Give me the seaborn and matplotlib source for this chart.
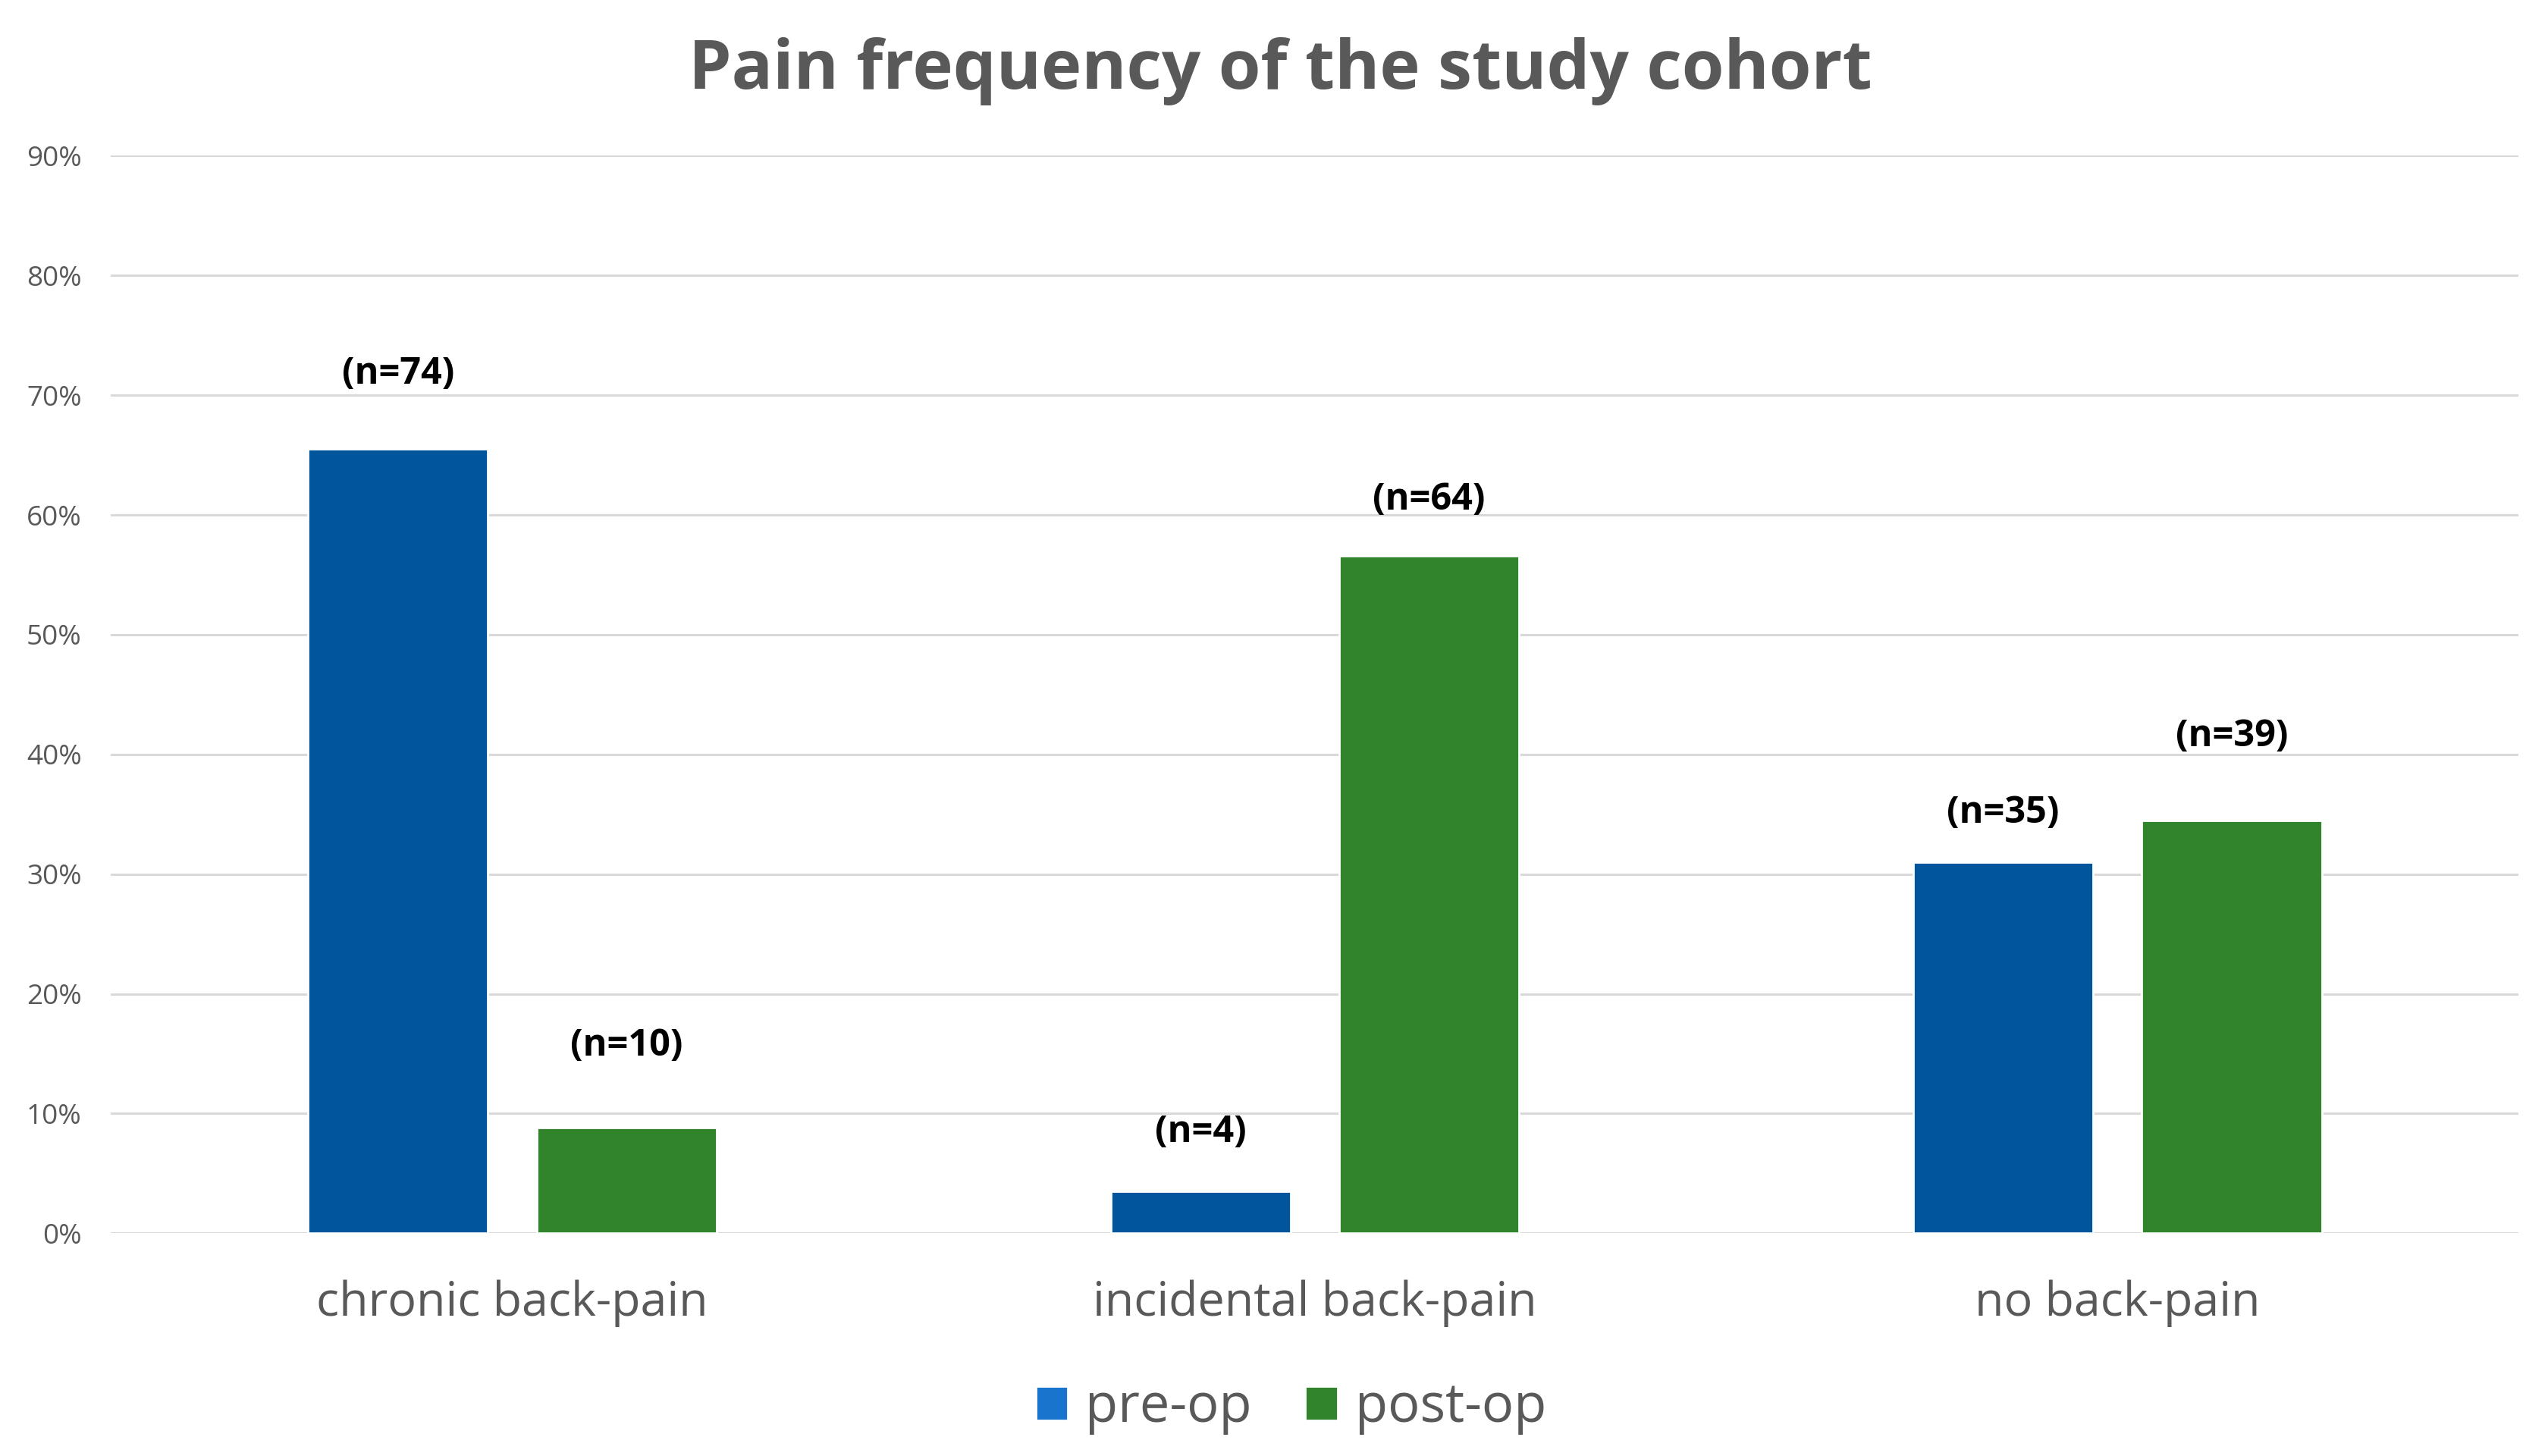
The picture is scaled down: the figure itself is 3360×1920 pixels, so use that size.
import matplotlib
matplotlib.use("Agg")
import matplotlib.pyplot as plt
import seaborn as sns
import pandas as pd
from matplotlib.ticker import FuncFormatter

# ---- data ----
categories = ["chronic back-pain", "incidental back-pain", "no back-pain"]
phases = ["pre-op", "post-op"]
pre_op_pct = [65.5, 3.5, 31.0]
post_op_pct = [8.8, 56.6, 34.5]
pre_op_n = [74, 4, 35]
post_op_n = [10, 64, 39]
y_ticks = [0, 10, 20, 30, 40, 50, 60, 70, 80, 90]

df = pd.DataFrame({
    "category": categories * 2,
    "phase": [phases[0]] * 3 + [phases[1]] * 3,
    "pct": pre_op_pct + post_op_pct,
})
labels_n = pre_op_n + post_op_n

# ---- style ----
sns.set_theme(style="white")
plt.rcParams["font.family"] = ["Open Sans", "DejaVu Sans"]
text_gray = "#595959"
bar_blue = "#00559D"
bar_green = "#31832C"
legend_blue = "#1874CD"
grid_gray = "#D9D9D9"

fig = plt.figure(figsize=(16.8, 9.6), dpi=200)
ax = fig.add_axes([0.0436, 0.153, 0.9449, 0.740])

sns.barplot(data=df, x="category", y="pct", hue="phase", order=categories,
            hue_order=phases, palette=[bar_blue, bar_green], width=0.57,
            gap=0.214, saturation=1, ax=ax, legend=True, zorder=3)

ax.set_xlim(-0.5, 2.5)
ax.set_ylim(0, 90)
ax.set_yticks(y_ticks)
ax.yaxis.set_major_formatter(FuncFormatter(lambda v, p: f"{v:.0f}%"))
ax.grid(axis="y", color=grid_gray, linewidth=1.1, zorder=0)
ax.grid(axis="x", visible=False)
ax.set_axisbelow(True)
for s in ax.spines.values():
    s.set_visible(False)
ax.tick_params(axis="y", length=0, pad=14, labelsize=13.3, labelcolor=text_gray)
ax.tick_params(axis="x", length=0, pad=22, labelsize=22.6, labelcolor=text_gray)
ax.set_xlabel("")
ax.set_ylabel("")

# value labels
label_lift = [46, 36, 30, 50, 34, 51]  # display offsets (px in reference, ~0.465 scale)
bars = [p for c in ax.containers for p in c]
for bar, n, lift in zip(bars, labels_n, label_lift):
    x = bar.get_x() + bar.get_width() / 2
    y = bar.get_height()
    ax.annotate(f"(n={n})", (x, y), xytext=(0, lift * 2.154 / 200 * 72),
                textcoords="offset points", ha="center", va="center",
                fontsize=17.5, fontweight="bold", color="black")

# legend
leg = ax.legend(loc="center", bbox_to_anchor=(0.5067, 0.033),
                bbox_transform=fig.transFigure, ncol=2, frameon=False,
                fontsize=25.4, handlelength=0.6, handleheight=0.6,
                handletextpad=0.33, columnspacing=1.0, labelcolor=text_gray)
leg.legend_handles[0].set_facecolor(legend_blue)

fig.suptitle("Pain frequency of the study cohort", x=0.5026, y=0.951,
             va="center", fontsize=32.5, fontweight="bold", color=text_gray)

fig.savefig("out.png", dpi=200)
